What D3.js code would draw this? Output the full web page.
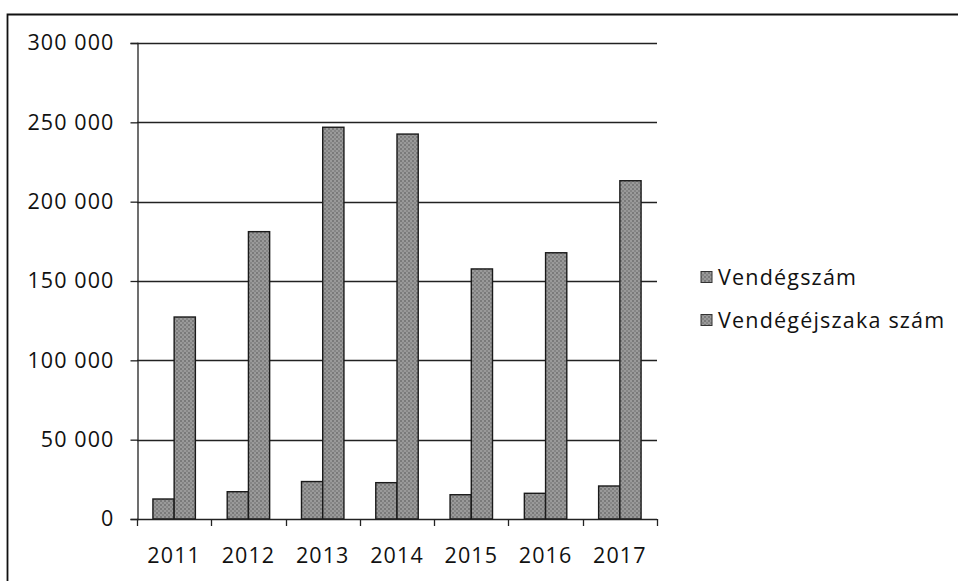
<!DOCTYPE html>
<html>
<head>
<meta charset="utf-8">
<script src="https://cdn.jsdelivr.net/npm/d3@7"></script>
<style>
  html, body { margin: 0; padding: 0; background: #fff; }
  svg { display: block; }
  text { font-family: "Open Sans", sans-serif; fill: #111; }
</style>
</head>
<body>
<svg id="chart" width="958" height="581"></svg>
<script>
// chart values
var years = ['2011', '2012', '2013', '2014', '2015', '2016', '2017'];
var seriesNames = ['Vendégszám', 'Vendégéjszaka szám'];
var guests = [12600, 17200, 23600, 22900, 15300, 16200, 20800];
var nights = [127300, 181100, 246900, 242600, 157600, 167800, 213200];
var yTicks = [0, 50000, 100000, 150000, 200000, 250000, 300000];

var svg = d3.select('#chart');
var fmt = d3.formatLocale({decimal: ',', thousands: ' ', grouping: [3], currency: ['', '']}).format(',d');

var plot = {left: 137, right: 657, top: 43, bottom: 519};

var y = d3.scaleLinear().domain([0, 300000]).range([plot.bottom, plot.top]);
var x0 = d3.scaleBand().domain(years).range([plot.left, plot.right]);
var x1 = d3.scaleBand().domain(seriesNames).range([0, x0.bandwidth()]).paddingOuter(0.75);

// scanned-looking grey fill for the bars
var defs = svg.append('defs');
var pat = defs.append('pattern')
    .attr('id', 'halftone')
    .attr('width', 4)
    .attr('height', 4)
    .attr('patternUnits', 'userSpaceOnUse');
pat.append('rect').attr('width', 4).attr('height', 4).attr('fill', '#9a9a9a');
pat.append('rect').attr('x', 0).attr('y', 0).attr('width', 2).attr('height', 2).attr('fill', '#7a7a7a');
pat.append('rect').attr('x', 2).attr('y', 2).attr('width', 2).attr('height', 2).attr('fill', '#858585');

// outer frame (only left and top edges are inside the picture)
svg.append('path')
    .attr('d', 'M7.5,581 V14.5 H958')
    .attr('fill', 'none')
    .attr('stroke', '#111')
    .attr('stroke-width', 1.8);

// gridlines
svg.append('g')
    .selectAll('line')
    .data(yTicks.slice(1))
    .join('line')
    .attr('x1', plot.left)
    .attr('x2', plot.right)
    .attr('y1', function(d) { return Math.round(y(d)) + 0.5; })
    .attr('y2', function(d) { return Math.round(y(d)) + 0.5; })
    .attr('stroke', '#222')
    .attr('stroke-width', 1.3);

// y axis
var yAxis = svg.append('g')
    .attr('transform', 'translate(' + (plot.left + 0.5) + ',0)')
    .call(d3.axisLeft(y).tickValues(yTicks).tickFormat(fmt).tickSize(7).tickPadding(16));
yAxis.select('.domain').attr('stroke', '#222').attr('stroke-width', 1.3);
yAxis.selectAll('.tick line').attr('stroke', '#222').attr('stroke-width', 1.3);
yAxis.selectAll('.tick text')
    .attr('font-family', '"Open Sans", sans-serif')
    .attr('font-size', 21.5)
    .attr('letter-spacing', 1.1)
    .attr('fill', '#111');

// bars
var bars = svg.append('g');
years.forEach(function(yr, i) {
    var vals = [guests[i], nights[i]];
    bars.selectAll(null)
        .data(vals)
        .enter()
        .append('rect')
        .attr('x', function(d, j) { return x0(yr) + x1(seriesNames[j]); })
        .attr('y', function(d) { return y(d); })
        .attr('width', x1.bandwidth())
        .attr('height', function(d) { return plot.bottom - y(d); })
        .attr('fill', 'url(#halftone)')
        .attr('stroke', '#1a1a1a')
        .attr('stroke-width', 1.4);
});

// x axis line and tick marks at category edges
var xEdges = years.map(function(yr) { return x0(yr); }).concat([plot.right]);
svg.append('line')
    .attr('x1', plot.left)
    .attr('x2', plot.right)
    .attr('y1', plot.bottom + 0.5)
    .attr('y2', plot.bottom + 0.5)
    .attr('stroke', '#222')
    .attr('stroke-width', 1.3);
svg.append('g')
    .selectAll('line')
    .data(xEdges)
    .join('line')
    .attr('x1', function(d) { return Math.round(d) + 0.5; })
    .attr('x2', function(d) { return Math.round(d) + 0.5; })
    .attr('y1', plot.bottom)
    .attr('y2', plot.bottom + 7)
    .attr('stroke', '#222')
    .attr('stroke-width', 1.3);
svg.append('g')
    .selectAll('text')
    .data(years)
    .join('text')
    .attr('x', function(d) { return x0(d) + x0.bandwidth() / 2; })
    .attr('y', 563)
    .attr('text-anchor', 'middle')
    .attr('font-size', 21.5)
    .attr('letter-spacing', 1.1)
    .text(function(d) { return d; });

// legend
var legend = svg.append('g');
seriesNames.forEach(function(name, i) {
    var cy = 277 + i * 43;
    legend.append('rect')
        .attr('x', 701)
        .attr('y', cy - 5.5)
        .attr('width', 11)
        .attr('height', 11)
        .attr('fill', 'url(#halftone)')
        .attr('stroke', '#333')
        .attr('stroke-width', 1);
    legend.append('text')
        .attr('x', 718)
        .attr('y', cy + 8)
        .attr('font-size', 21.5)
        .attr('letter-spacing', 1.2)
        .text(name);
});
</script>
</body>
</html>
